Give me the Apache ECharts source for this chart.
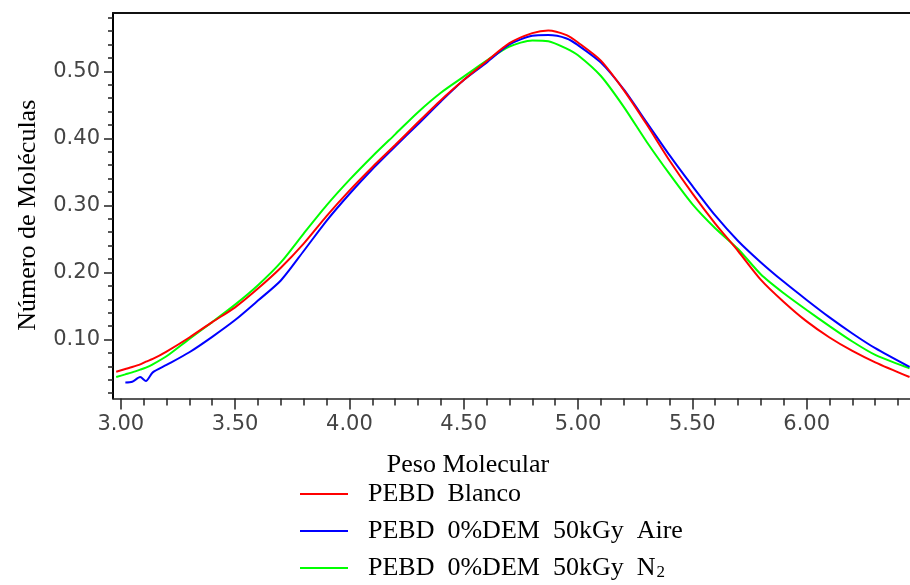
<!DOCTYPE html>
<html>
<head>
<meta charset="utf-8">
<script src="https://cdn.jsdelivr.net/npm/echarts@6/dist/echarts.min.js"></script>
<style>
  html, body { margin: 0; padding: 0; background: #fff; }
  #chart { width: 910px; height: 585px; }
</style>
</head>
<body>
<div id="chart"></div>
<script>
// Molecular weight (log scale) sampling positions
const pesoMolecular = [2.98, 3.02, 3.05, 3.085, 3.11, 3.14, 3.2, 3.3, 3.4, 3.5, 3.6, 3.7, 3.8, 3.9, 4.0,
  4.1, 4.2, 4.3, 4.4, 4.5, 4.6, 4.7, 4.8, 4.87, 4.95, 5.0, 5.1, 5.2, 5.3, 5.4, 5.5, 5.6, 5.7,
  5.8, 5.9, 6.0, 6.1, 6.2, 6.3, 6.45];

// Number of molecules for each sample
const pebdBlanco = [0.052, 0.056, 0.059, 0.063, 0.067, 0.071, 0.082, 0.103, 0.126, 0.148, 0.176, 0.207, 0.243, 0.284, 0.322,
  0.357, 0.390, 0.424, 0.457, 0.487, 0.515, 0.542, 0.557, 0.561, 0.554, 0.543, 0.516, 0.472, 0.421, 0.367, 0.318, 0.273, 0.232,
  0.189, 0.156, 0.127, 0.103, 0.083, 0.066, 0.044];

const pebdAire = [null, 0.036, 0.037, 0.044, 0.038, 0.051, 0.062, 0.081, 0.104, 0.129, 0.158, 0.188, 0.232, 0.277, 0.317,
  0.354, 0.388, 0.421, 0.455, 0.487, 0.513, 0.540, 0.553, 0.554, 0.549, 0.539, 0.513, 0.473, 0.424, 0.375, 0.329, 0.285, 0.247,
  0.215, 0.186, 0.159, 0.133, 0.109, 0.087, 0.059];

const pebdN2 = [0.044, 0.048, 0.051, 0.055, 0.058, 0.063, 0.075, 0.101, 0.126, 0.152, 0.181, 0.215, 0.258, 0.300, 0.338,
  0.373, 0.406, 0.439, 0.468, 0.492, 0.516, 0.537, 0.546, 0.545, 0.534, 0.524, 0.493, 0.447, 0.395, 0.347, 0.302, 0.266, 0.235,
  0.197, 0.169, 0.144, 0.120, 0.097, 0.077, 0.057];

const seriesNames = ['PEBD  Blanco', 'PEBD  0%DEM  50kGy  Aire', 'PEBD  0%DEM  50kGy  N2'];
const seriesColors = ['#ff0000', '#0000ff', '#00ff00'];

const xTickValues = [3.0, 3.5, 4.0, 4.5, 5.0, 5.5, 6.0];
const yTickValues = [0.1, 0.2, 0.3, 0.4, 0.5];

const xRange = [2.966, 6.452];
const yRange = [0.012, 0.587];

// minor tick positions every 0.1 on x, every 0.02 on y
const xMinor = [];
for (let k = 30; k <= 64; k++) if (k % 5 !== 0) xMinor.push(k / 10);
const yMinor = [];
for (let k = 1; k <= 29; k++) if (k % 5 !== 0) yMinor.push(Math.round(k * 2) / 100);

const toPairs = ys => pesoMolecular.map((x, i) => [x, ys[i]]);

const tickFont = { fontFamily: 'DejaVu Sans', fontSize: 21, color: '#444' };
const serif = 'Liberation Serif';

const chart = echarts.init(document.getElementById('chart'), null, { renderer: 'canvas' });

chart.setOption({
  animation: false,
  backgroundColor: '#ffffff',
  grid: { left: 113, right: 0, top: 13, bottom: 186.5 },
  legend: {
    orient: 'vertical',
    left: 300,
    top: 481,
    padding: 0,
    height: 104,
    icon: 'rect',
    itemWidth: 48,
    itemHeight: 2,
    itemGap: 11,
    data: seriesNames,
    formatter: name => name.endsWith('N2')
      ? '{t|' + name.slice(0, -1) + '}{s|2}'
      : '{t|' + name + '}',
    textStyle: {
      padding: [0, 0, 0, 15],
      rich: {
        t: { fontFamily: serif, fontSize: 26, lineHeight: 26, color: '#000' },
        s: { fontFamily: serif, fontSize: 17, lineHeight: 17, color: '#000', verticalAlign: 'bottom', padding: [0, 0, 0, 1] }
      }
    }
  },
  xAxis: [
    {
      type: 'value', min: xRange[0], max: xRange[1], position: 'bottom',
      axisLine: { show: true, onZero: false, lineStyle: { color: '#222', width: 1.5 } },
      axisTick: { show: true, customValues: xTickValues, length: 11, lineStyle: { color: '#222', width: 1.5 } },
      axisLabel: Object.assign({ customValues: xTickValues, margin: 16, formatter: v => v.toFixed(2) }, tickFont),
      splitLine: { show: false },
      name: 'Peso Molecular', nameLocation: 'middle', nameGap: 54,
      nameTextStyle: { fontFamily: serif, fontSize: 26, color: '#000', padding: [0, 87, 0, 0] }
    },
    {
      type: 'value', min: xRange[0], max: xRange[1], position: 'bottom',
      axisLine: { show: false },
      axisTick: { show: true, customValues: xMinor, length: 7, lineStyle: { color: '#222', width: 1.5 } },
      axisLabel: { show: false },
      splitLine: { show: false }
    },
    {
      type: 'value', min: xRange[0], max: xRange[1], position: 'top',
      axisLine: { show: true, onZero: false, lineStyle: { color: '#111', width: 2 } },
      axisTick: { show: false }, axisLabel: { show: false }, splitLine: { show: false }
    }
  ],
  yAxis: [
    {
      type: 'value', min: yRange[0], max: yRange[1], position: 'left',
      axisLine: { show: true, onZero: false, lineStyle: { color: '#000', width: 2 } },
      axisTick: { show: true, customValues: yTickValues, length: 9, lineStyle: { color: '#222', width: 1.5 } },
      axisLabel: Object.assign({ customValues: yTickValues, margin: 13, formatter: v => v.toFixed(2) }, tickFont),
      splitLine: { show: false },
      name: 'Número de Moléculas', nameLocation: 'middle', nameGap: 72, nameRotate: 90,
      nameTextStyle: { fontFamily: serif, fontSize: 26, color: '#000', padding: [0, 19, 0, 0] }
    },
    {
      type: 'value', min: yRange[0], max: yRange[1], position: 'left',
      axisLine: { show: false },
      axisTick: { show: true, customValues: yMinor, length: 5, lineStyle: { color: '#222', width: 1.5 } },
      axisLabel: { show: false },
      splitLine: { show: false }
    }
  ],
  series: [
    { name: seriesNames[2], data: toPairs(pebdN2), color: seriesColors[2] },
    { name: seriesNames[1], data: toPairs(pebdAire), color: seriesColors[1] },
    { name: seriesNames[0], data: toPairs(pebdBlanco), color: seriesColors[0] }
  ].map(s => Object.assign({
    type: 'line',
    xAxisIndex: 0,
    yAxisIndex: 0,
    showSymbol: false,
    smooth: 0.25,
    connectNulls: false,
    lineStyle: { width: 2, color: s.color },
    itemStyle: { color: s.color }
  }, s))
});
</script>
</body>
</html>
